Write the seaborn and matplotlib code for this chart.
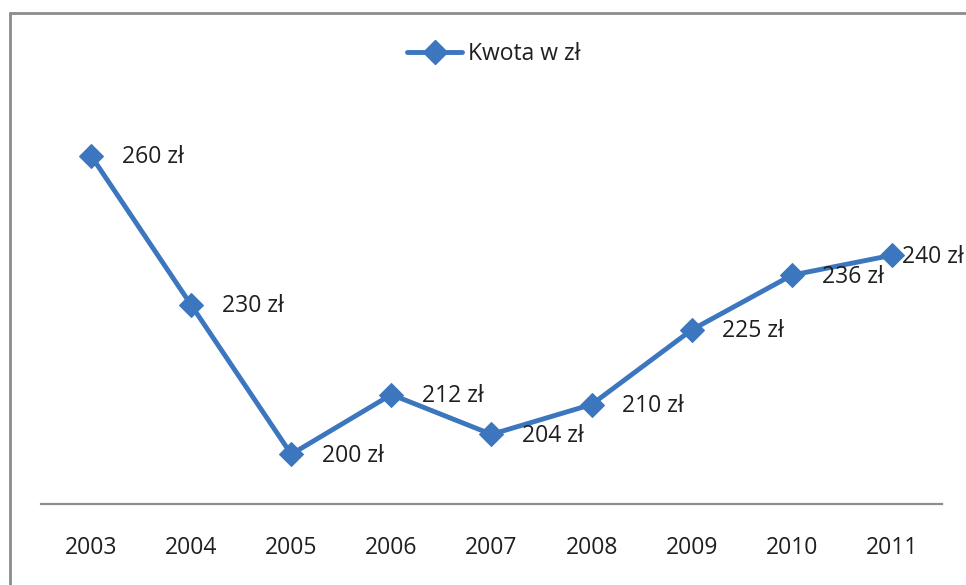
import matplotlib
matplotlib.use("Agg")
import matplotlib.pyplot as plt
from matplotlib.lines import Line2D
import seaborn as sns
import pandas as pd

years = ["2003", "2004", "2005", "2006", "2007", "2008", "2009", "2010", "2011"]
amounts = [260, 230, 200, 212, 204, 210, 225, 236, 240]
series_name = "Kwota w zł"

sns.set_theme(style="white")
plt.rcParams["font.family"] = ["Open Sans", "DejaVu Sans"]

blue = "#3B76BE"
grey = "#8C8C8C"
txt = "#1F1F1F"
fs = 16.5

df = pd.DataFrame({"pos": range(len(years)), "year": years, "amount": amounts})

fig = plt.figure(figsize=(9.66, 5.85), dpi=100)
ax = fig.add_axes([41 / 966, 1 - 504 / 585, (942 - 41) / 966, (504 - 106) / 585])

sns.lineplot(data=df, x="pos", y="amount", ax=ax, color=blue, linewidth=3.5,
             marker="D", markersize=12, markeredgecolor=blue, markerfacecolor=blue,
             label=series_name, legend=False)

ax.set_xlim(-0.5, len(years) - 0.5)
ax.set_ylim(190, 270)
ax.set_xticks(range(len(years)))
ax.set_xticklabels(years, fontsize=fs, color=txt)
ax.tick_params(axis="x", length=0, pad=23)
ax.set_yticks([])
ax.set_xlabel("")
ax.set_ylabel("")
for side in ["top", "right", "left"]:
    ax.spines[side].set_visible(False)
ax.spines["bottom"].set_color(grey)
ax.spines["bottom"].set_linewidth(1.6)
ax.patch.set_alpha(0)

# value labels to the right of each point
for i, v in enumerate(amounts):
    dx = 7 if i == len(amounts) - 1 else 22
    ax.annotate(f"{v} zł", (i, v), xytext=(dx, -1), textcoords="offset points",
                ha="left", va="center", fontsize=fs, color=txt)

# legend above the plot
handle = Line2D([], [], color=blue, linewidth=3.5, marker="D", markersize=12)
fig.legend([handle], [series_name], loc="center", bbox_to_anchor=(494 / 966, 1 - 54 / 585),
           frameon=False, fontsize=fs, handlelength=2.4, handletextpad=0.25,
           labelcolor=txt)

# chart frame
fig.add_artist(Line2D([10 / 966, 1], [1 - 13 / 585, 1 - 13 / 585], color=grey, linewidth=2))
fig.add_artist(Line2D([10 / 966, 10 / 966], [0, 1 - 13 / 585], color=grey, linewidth=2))

fig.savefig("out.png", dpi=100, facecolor="white")
